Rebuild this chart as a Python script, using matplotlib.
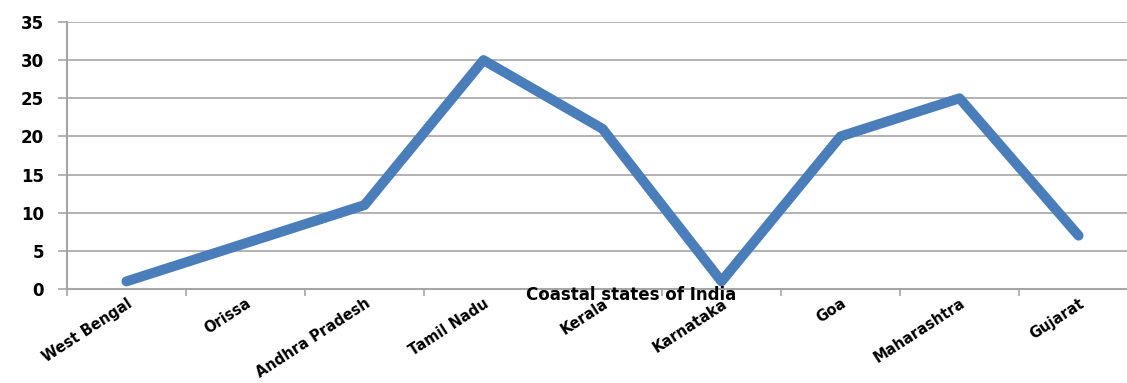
# Coastal states of India - line chart
import numpy as np
import matplotlib.pyplot as plt

states = ['West Bengal', 'Orissa', 'Andhra Pradesh', 'Tamil Nadu', 'Kerala',
          'Karnataka', 'Goa', 'Maharashtra', 'Gujarat']
values = [1, 6, 11, 30, 21, 1, 20, 25, 7]
y_ticks = [0, 5, 10, 15, 20, 25, 30, 35]

fig = plt.figure(figsize=(11.27, 3.83), dpi=100)
# plot area runs a little past the right edge, like the cropped original
ax = fig.add_axes([0.0594, 0.2454, 0.9504, 0.6972])

x = np.arange(len(states))
ax.plot(x, values, color='#4a7ebb', linewidth=7.2,
        solid_capstyle='round', solid_joinstyle='round', zorder=3)

ax.set_xlim(-0.5, len(states) - 0.5)
ax.set_ylim(0, 35)
ax.set_yticks(y_ticks)
ax.set_yticklabels([str(v) for v in y_ticks], fontfamily='DejaVu Sans',
                   fontweight='bold', fontsize=12)
ax.yaxis.grid(True, color='#a6a6a6', linewidth=1.2)
ax.set_axisbelow(True)

ax.set_xticks(x)
ax.set_xticklabels(states, rotation=33, ha='right', rotation_mode='anchor',
                   fontfamily='DejaVu Sans', fontweight='bold', fontsize=10.5)
ax.set_xticks(np.arange(len(states) + 1) - 0.5, minor=True)
ax.tick_params(axis='x', which='major', length=0, pad=5)
ax.tick_params(axis='x', which='minor', length=5, color='#a6a6a6', width=1.2)
ax.tick_params(axis='y', length=6.5, color='#a6a6a6', width=1.2, pad=10)

for side in ['top', 'right']:
    ax.spines[side].set_visible(False)
for side in ['left', 'bottom']:
    ax.spines[side].set_color('#a6a6a6')
    ax.spines[side].set_linewidth(1.5)

ax.text(0.527, -0.022, 'Coastal states of India', transform=ax.transAxes,
        ha='center', va='center', fontfamily='DejaVu Sans', fontweight='bold',
        fontsize=12)

fig.savefig('out.png', dpi=100)
